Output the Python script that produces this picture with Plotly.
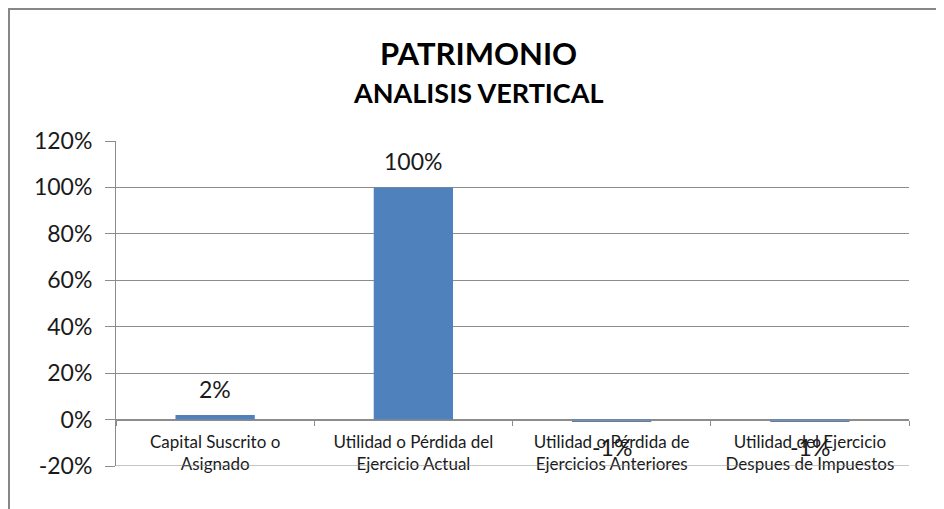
import plotly.graph_objects as go

categories = [
    "Capital Suscrito o<br>Asignado",
    "Utilidad o Pérdida del<br>Ejercicio Actual",
    "Utilidad o Pérdida de<br>Ejercicios Anteriores",
    "Utilidad del Ejercicio<br>Despues de Impuestos",
]
values = [0.02, 1.00, -0.01, -0.01]
value_labels = ["2%", "100%", "-1%", "-1%"]
y_ticks = [-0.2, 0, 0.2, 0.4, 0.6, 0.8, 1.0, 1.2]
y_tick_text = ["-20%", "0%", "20%", "40%", "60%", "80%", "100%", "120%"]

# page has an 8px body offset; figure sized to fit the 944x509 window
OFF = 8
W, H = 944 - OFF, 509 - OFF
ML, MT = 116 - OFF, 141 - OFF
MR = W - (909 - OFF)
MB = H - (466 - OFF)
pw = W - ML - MR
ph = H - MT - MB

FONT = "Lato, 'Open Sans', sans-serif"
GRID = "#8c8c8c"

fig = go.Figure(go.Bar(
    x=categories, y=values,
    marker=dict(color="#4F81BD", line=dict(width=0)),
    cliponaxis=False,
))

label_annots = [
    dict(x=c, y=v, xref="x", yref="y", text=t, showarrow=False,
         xanchor="center", yanchor="middle", yshift=26 if v >= 0 else -25,
         font=dict(size=23, family=FONT, color="#1a1a1a"))
    for c, v, t in zip(categories, values, value_labels)
]

def px_x(px):
    return (px - OFF - ML) / pw

def px_y(py):
    return 1 + (MT - (py - OFF)) / ph

fig.update_layout(
    width=W, height=H,
    margin=dict(l=ML, r=MR, t=MT, b=MB, pad=0, autoexpand=False),
    paper_bgcolor="white", plot_bgcolor="white",
    bargap=0.6,
    showlegend=False,
    font=dict(family=FONT, color="#1a1a1a"),
    xaxis=dict(
        anchor="free", position=20 / 140, automargin=False,
        showline=True, linecolor=GRID, linewidth=1,
        ticks="outside", tickson="boundaries", ticklen=5, tickcolor=GRID,
        ticklabelstandoff=7,
        tickfont=dict(size=17, family=FONT, color="#1a1a1a"),
        showgrid=False, zeroline=False,
    ),
    yaxis=dict(
        range=[-0.2, 1.2], tickvals=y_ticks, ticktext=y_tick_text,
        automargin=False,
        showline=True, linecolor=GRID, linewidth=1,
        ticks="outside", ticklen=10, tickcolor=GRID,
        ticklabelstandoff=8,
        showgrid=True, gridcolor=GRID, gridwidth=1,
        zeroline=False,
        tickfont=dict(size=23, family=FONT, color="#1a1a1a"),
    ),
    annotations=[
        dict(text="<b>PATRIMONIO</b>", xref="paper", yref="paper",
             x=px_x(478), y=px_y(53), xanchor="center", yanchor="middle",
             showarrow=False, font=dict(size=31, family=FONT, color="#000000")),
        dict(text="<b>ANALISIS VERTICAL</b>", xref="paper", yref="paper",
             x=px_x(478), y=px_y(93), xanchor="center", yanchor="middle",
             showarrow=False, font=dict(size=27, family=FONT, color="#000000")),
    ] + label_annots,
    shapes=[
        dict(type="line", xref="paper", yref="paper",
             x0=px_x(9), x1=px_x(9), y0=px_y(8), y1=px_y(520),
             line=dict(color="#878787", width=2)),
        dict(type="line", xref="paper", yref="paper",
             x0=px_x(8), x1=px_x(950), y0=px_y(9), y1=px_y(9),
             line=dict(color="#878787", width=2)),
        dict(type="line", xref="paper", yref="y",
             x0=0, x1=1, y0=-0.2, y1=-0.2,
             line=dict(color=GRID, width=1)),
    ],
)

fig.write_html("out.html")
